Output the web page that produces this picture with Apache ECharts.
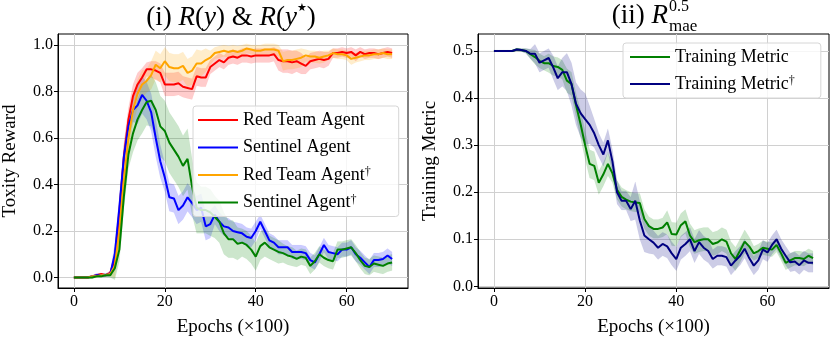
<!DOCTYPE html>
<html>
<head>
<meta charset="utf-8">
<script src="https://cdn.jsdelivr.net/npm/echarts@6/dist/echarts.min.js"></script>
<style>
html, body { margin: 0; padding: 0; background: #fff; }
#main { width: 830px; height: 342px; }
</style>
</head>
<body>
<div id="main"></div>
<script>
// epochs (x100)
const epochs = [0,1,2,3,4,5,6,7,8,9,10,11,12,13,14,15,16,17,18,19,20,21,22,23,24,25,26,27,28,29,30,
  31,32,33,34,35,36,37,38,39,40,41,42,43,44,45,46,47,48,49,50,51,52,53,54,55,56,57,58,59,60,
  61,62,63,64,65,66,67,68,69,70];

// (i) toxicity reward
const redTeam = [0,0,0,0,0.005,0.01,0.015,0.01,0.02,0.08,0.28,0.52,0.68,0.78,0.83,0.86,0.895,0.895,0.89,0.88,
  0.83,0.83,0.83,0.835,0.82,0.815,0.81,0.865,0.86,0.86,0.905,0.92,0.935,0.925,0.945,0.95,0.945,0.955,0.955,0.95,
  0.955,0.955,0.955,0.955,0.96,0.935,0.93,0.93,0.925,0.93,0.92,0.91,0.93,0.935,0.94,0.935,0.94,0.965,0.965,0.97,
  0.965,0.97,0.955,0.97,0.96,0.965,0.965,0.96,0.965,0.97,0.965];
const redTeamSpread = [0.005,0.005,0.005,0.005,0.005,0.005,0.005,0.005,0.01,0.04,0.06,0.06,0.05,0.05,0.05,0.04,0.03,0.035,0.04,0.04,
  0.05,0.05,0.05,0.05,0.045,0.045,0.045,0.04,0.04,0.04,0.03,0.03,0.03,0.03,0.03,0.03,0.03,0.03,0.03,0.03,
  0.03,0.03,0.03,0.03,0.03,0.045,0.05,0.05,0.05,0.045,0.045,0.035,0.035,0.035,0.035,0.035,0.03,0.02,0.02,0.02,
  0.02,0.02,0.025,0.02,0.02,0.02,0.02,0.02,0.02,0.02,0.02];

const sentinel = [0,0,0,0,0.005,0.01,0.01,0.01,0.015,0.1,0.3,0.52,0.65,0.72,0.74,0.785,0.76,0.71,0.6,0.5,
  0.43,0.345,0.34,0.29,0.31,0.345,0.32,0.29,0.3,0.22,0.23,0.27,0.24,0.22,0.215,0.2,0.195,0.19,0.175,0.17,
  0.2,0.24,0.2,0.16,0.15,0.13,0.13,0.13,0.11,0.11,0.11,0.105,0.075,0.065,0.1,0.14,0.11,0.105,0.1,0.12,
  0.12,0.13,0.1,0.085,0.065,0.045,0.075,0.075,0.08,0.095,0.08];
const sentinelSpread = [0.005,0.005,0.005,0.005,0.005,0.008,0.008,0.008,0.01,0.05,0.05,0.05,0.05,0.05,0.08,0.08,0.08,0.08,0.08,0.07,
  0.06,0.06,0.06,0.06,0.06,0.06,0.06,0.06,0.06,0.06,0.06,0.04,0.04,0.04,0.04,0.04,0.04,0.04,0.04,0.04,
  0.04,0.03,0.03,0.03,0.03,0.03,0.03,0.03,0.03,0.03,0.03,0.03,0.03,0.03,0.03,0.03,0.03,0.03,0.03,0.03,
  0.03,0.03,0.03,0.03,0.03,0.03,0.03,0.03,0.03,0.03,0.03];

const redTeamDag = [0,0,0,0,0.005,0.005,0.01,0.01,0.015,0.05,0.2,0.42,0.6,0.72,0.79,0.83,0.845,0.87,0.915,0.9,
  0.93,0.905,0.9,0.9,0.91,0.88,0.89,0.92,0.92,0.935,0.945,0.965,0.97,0.975,0.97,0.975,0.97,0.975,0.985,0.98,
  0.975,0.975,0.98,0.98,0.98,0.975,0.93,0.935,0.935,0.94,0.945,0.955,0.95,0.95,0.945,0.95,0.955,0.965,0.96,0.96,
  0.955,0.94,0.945,0.95,0.955,0.955,0.96,0.96,0.965,0.96,0.96];
const redTeamDagSpread = [0.005,0.005,0.005,0.005,0.005,0.005,0.005,0.005,0.01,0.05,0.06,0.06,0.06,0.06,0.06,0.06,0.05,0.06,0.06,0.06,
  0.06,0.06,0.06,0.06,0.06,0.06,0.06,0.06,0.055,0.05,0.03,0.025,0.025,0.025,0.025,0.025,0.025,0.025,0.02,0.02,
  0.025,0.025,0.025,0.025,0.025,0.025,0.04,0.04,0.04,0.04,0.04,0.025,0.025,0.025,0.025,0.025,0.02,0.02,0.02,0.02,
  0.02,0.025,0.02,0.02,0.02,0.02,0.02,0.02,0.02,0.02,0.02];

const sentinelDag = [0,0,0,0,0,0.005,0.005,0.01,0.01,0.04,0.12,0.35,0.53,0.62,0.68,0.72,0.755,0.76,0.72,0.65,
  0.63,0.58,0.55,0.52,0.48,0.51,0.39,0.3,0.29,0.29,0.28,0.26,0.24,0.19,0.165,0.165,0.145,0.15,0.14,0.12,
  0.09,0.135,0.15,0.13,0.12,0.11,0.105,0.095,0.09,0.08,0.09,0.085,0.05,0.07,0.1,0.085,0.075,0.07,0.12,0.12,
  0.125,0.13,0.105,0.075,0.05,0.045,0.06,0.055,0.05,0.06,0.065];
const sentinelDagSpread = [0.005,0.005,0.005,0.005,0.005,0.005,0.005,0.008,0.01,0.05,0.05,0.05,0.06,0.08,0.09,0.1,0.1,0.11,0.12,0.13,
  0.13,0.13,0.13,0.13,0.13,0.13,0.12,0.11,0.1,0.1,0.1,0.09,0.09,0.09,0.08,0.08,0.07,0.06,0.06,0.06,
  0.06,0.06,0.06,0.05,0.05,0.05,0.04,0.04,0.04,0.035,0.035,0.035,0.035,0.035,0.035,0.035,0.035,0.035,0.035,0.035,
  0.035,0.035,0.035,0.035,0.035,0.035,0.035,0.035,0.035,0.035,0.035];

// (ii) training metric
const trainMetric = [0.5,0.5,0.5,0.5,0.5,0.503,0.502,0.5,0.493,0.487,0.479,0.474,0.474,0.468,0.466,0.46,0.437,0.43,0.385,0.345,
  0.3,0.26,0.256,0.22,0.238,0.26,0.24,0.205,0.19,0.184,0.18,0.178,0.177,0.143,0.128,0.122,0.122,0.125,0.136,0.111,
  0.11,0.13,0.138,0.108,0.094,0.098,0.1,0.1,0.09,0.093,0.1,0.095,0.07,0.058,0.076,0.095,0.085,0.07,0.075,0.082,
  0.08,0.078,0.088,0.07,0.05,0.055,0.06,0.06,0.058,0.065,0.06];
const trainMetricSpread = [0.002,0.002,0.002,0.002,0.002,0.003,0.003,0.005,0.01,0.015,0.015,0.015,0.02,0.02,0.02,0.02,0.025,0.025,0.025,0.03,
  0.03,0.03,0.03,0.025,0.025,0.025,0.02,0.02,0.02,0.02,0.02,0.02,0.02,0.02,0.02,0.02,0.02,0.02,0.025,0.025,
  0.025,0.025,0.025,0.025,0.025,0.025,0.025,0.025,0.025,0.025,0.025,0.025,0.025,0.025,0.025,0.025,0.02,0.015,0.015,0.015,
  0.015,0.015,0.015,0.015,0.015,0.015,0.015,0.015,0.015,0.015,0.015];

const trainMetricDag = [0.5,0.5,0.5,0.5,0.5,0.503,0.502,0.5,0.494,0.494,0.475,0.48,0.485,0.465,0.442,0.455,0.455,0.43,0.388,0.368,
  0.355,0.343,0.325,0.3,0.28,0.31,0.265,0.2,0.182,0.182,0.164,0.182,0.14,0.108,0.1,0.093,0.082,0.09,0.085,0.07,
  0.058,0.082,0.09,0.1,0.075,0.094,0.082,0.075,0.058,0.065,0.065,0.062,0.044,0.055,0.065,0.08,0.06,0.044,0.055,0.078,
  0.072,0.088,0.1,0.08,0.065,0.051,0.053,0.045,0.055,0.05,0.05];
const trainMetricDagSpread = [0.002,0.002,0.002,0.002,0.002,0.003,0.003,0.005,0.01,0.02,0.02,0.02,0.02,0.025,0.025,0.03,0.04,0.045,0.045,0.05,
  0.055,0.04,0.03,0.025,0.025,0.025,0.025,0.025,0.02,0.02,0.025,0.04,0.04,0.035,0.03,0.025,0.025,0.025,0.025,0.025,
  0.025,0.025,0.025,0.025,0.025,0.025,0.025,0.025,0.02,0.02,0.02,0.02,0.02,0.02,0.02,0.02,0.02,0.02,0.02,0.02,
  0.02,0.02,0.02,0.02,0.02,0.02,0.02,0.02,0.02,0.02,0.02];

const xTicks = [0, 20, 40, 60];
const yTicksLeft = [0, 0.2, 0.4, 0.6, 0.8, 1.0];
const yTicksRight = [0, 0.1, 0.2, 0.3, 0.4, 0.5];

const FONT = 'Liberation Serif';

// shaded spread band: one polygon through the library's coord system
function band(mean, spread, color, idx) {
  const rows = mean.map((m, i) => [epochs[i], m - spread[i], m + spread[i]]);
  return {
    type: 'custom', xAxisIndex: idx, yAxisIndex: idx, silent: true, z: 1,
    data: rows, encode: { x: 0, y: [1, 2] },
    renderItem: function (params, api) {
      if (params.dataIndex !== 0) return null;
      const up = rows.map(r => api.coord([r[0], r[2]]));
      const lo = rows.map(r => api.coord([r[0], r[1]])).reverse();
      return {
        type: 'polygon',
        shape: { points: up.concat(lo) },
        style: { fill: color, opacity: 0.2, stroke: color, lineWidth: 0.6, strokeOpacity: 0.25 }
      };
    }
  };
}

function line(name, mean, color, idx) {
  return {
    name: name, type: 'line', xAxisIndex: idx, yAxisIndex: idx,
    data: mean.map((m, i) => [epochs[i], m]), symbol: 'none',
    lineStyle: { color: color, width: 2 }, itemStyle: { color: color }, z: 3
  };
}

function xAxis(idx) {
  return {
    gridIndex: idx, type: 'value', min: -3.5, max: 73.5,
    name: 'Epochs (×100)', nameLocation: 'middle', nameGap: 30,
    nameTextStyle: { fontFamily: FONT, fontSize: 19, color: '#000' },
    axisLine: { show: true, onZero: false, lineStyle: { color: '#000', width: 1 } },
    axisTick: { show: true, customValues: xTicks, length: 4, lineStyle: { color: '#000' } },
    axisLabel: { customValues: xTicks, fontFamily: FONT, fontSize: 16, color: '#000', margin: 6 },
    splitLine: { show: true, lineStyle: { color: '#d0d0d0', width: 1 } }
  };
}

function yAxis(idx, min, max, ticks, name, gap) {
  return {
    gridIndex: idx, type: 'value', min: min, max: max,
    name: name, nameLocation: 'middle', nameGap: gap,
    nameTextStyle: { fontFamily: FONT, fontSize: 19, color: '#000' },
    axisLine: { show: true, onZero: false, lineStyle: { color: '#000', width: 1 } },
    axisTick: { show: true, customValues: ticks, length: 4, lineStyle: { color: '#000' } },
    axisLabel: { customValues: ticks, fontFamily: FONT, fontSize: 16, color: '#000', margin: 5,
      formatter: v => v.toFixed(1) },
    splitLine: { show: true, lineStyle: { color: '#d0d0d0', width: 1 } }
  };
}

function legendFmt(n) {
  return n.endsWith('†') ? '{t|' + n.slice(0, -1) + '}{d|†}' : '{t|' + n + '}';
}
const legendText = {
  fontFamily: FONT, color: '#000',
  rich: {
    t: { fontFamily: FONT, fontSize: 18, lineHeight: 18, color: '#000' },
    d: { fontFamily: FONT, fontSize: 12, lineHeight: 18, verticalAlign: 'top', color: '#000' }
  }
};

const chart = echarts.init(document.getElementById('main'), null, { renderer: 'canvas' });

const series = [
  band(redTeam, redTeamSpread, '#ff0000', 0),
  band(sentinel, sentinelSpread, '#0000ff', 0),
  band(redTeamDag, redTeamDagSpread, '#ffa500', 0),
  band(sentinelDag, sentinelDagSpread, '#008000', 0),
  band(trainMetric, trainMetricSpread, '#008000', 1),
  band(trainMetricDag, trainMetricDagSpread, '#000080', 1),
  line('Red Team Agent', redTeam, '#ff0000', 0),
  line('Sentinel Agent', sentinel, '#0000ff', 0),
  line('Red Team Agent†', redTeamDag, '#ffa500', 0),
  line('Sentinel Agent†', sentinelDag, '#008000', 0),
  line('Training Metric', trainMetric, '#008000', 1),
  line('Training Metric†', trainMetricDag, '#000080', 1)
];

const titleRich = {
  u: { fontFamily: FONT, fontSize: 27, lineHeight: 30, fill: '#000' },
  i: { fontFamily: FONT, fontSize: 27, fontStyle: 'italic', lineHeight: 30, fill: '#000' },
  s: { fontFamily: 'DejaVu Sans', fontSize: 11, lineHeight: 26, verticalAlign: 'top', fill: '#000' }
};

chart.setOption({
  animation: false,
  backgroundColor: '#fff',
  grid: [
    { left: 56, top: 34, width: 352, height: 254, show: true, borderColor: '#000', borderWidth: 1 },
    { left: 478, top: 34, width: 351, height: 255, show: true, borderColor: '#000', borderWidth: 1 }
  ],
  xAxis: [xAxis(0), xAxis(1)],
  yAxis: [
    yAxis(0, -0.045, 1.047, yTicksLeft, 'Toxity Reward', 38),
    yAxis(1, -0.0035, 0.536, yTicksRight, 'Training Metric', 38)
  ],
  legend: [{
    data: ['Red Team Agent', 'Sentinel Agent', 'Red Team Agent†', 'Sentinel Agent†'],
    orient: 'vertical', left: 193, top: 106, icon: 'rect', itemWidth: 40, itemHeight: 2, itemGap: 9.5,
    padding: [5, 28, 5, 5], itemTextGap: 13,
    backgroundColor: 'rgba(255,255,255,0.8)', borderColor: '#d6d6d6', borderWidth: 1, borderRadius: 3,
    formatter: legendFmt, textStyle: legendText, selectedMode: false
  }, {
    data: ['Training Metric', 'Training Metric†'],
    orient: 'vertical', left: 623, top: 43, icon: 'rect', itemWidth: 40, itemHeight: 2, itemGap: 9,
    padding: [5, 26, 5, 7], itemTextGap: 13,
    backgroundColor: 'rgba(255,255,255,0.8)', borderColor: '#d6d6d6', borderWidth: 1, borderRadius: 3,
    formatter: legendFmt, textStyle: legendText, selectedMode: false
  }],
  graphic: [
    { type: 'text', x: 231, y: 18, z: 10, style: {
      text: '{u|(i) }{i|R}{u|(}{i|y}{u|) & }{i|R}{u|(}{i|y}{s|★}{u|)}',
      rich: titleRich, align: 'center', verticalAlign: 'middle' } },
    { type: 'text', x: 668, y: 16, z: 10, style: {
      text: '{u|(ii) }{i|R}', rich: titleRich, align: 'right', verticalAlign: 'middle' } },
    { type: 'text', x: 669, y: 7, z: 10, style: {
      text: '0.5', fontFamily: FONT, fontSize: 16, fill: '#000', align: 'left', verticalAlign: 'middle' } },
    { type: 'text', x: 669, y: 27, z: 10, style: {
      text: 'mae', fontFamily: FONT, fontSize: 17, fill: '#000', align: 'left', verticalAlign: 'middle' } }
  ],
  series: series
});
</script>
</body>
</html>
